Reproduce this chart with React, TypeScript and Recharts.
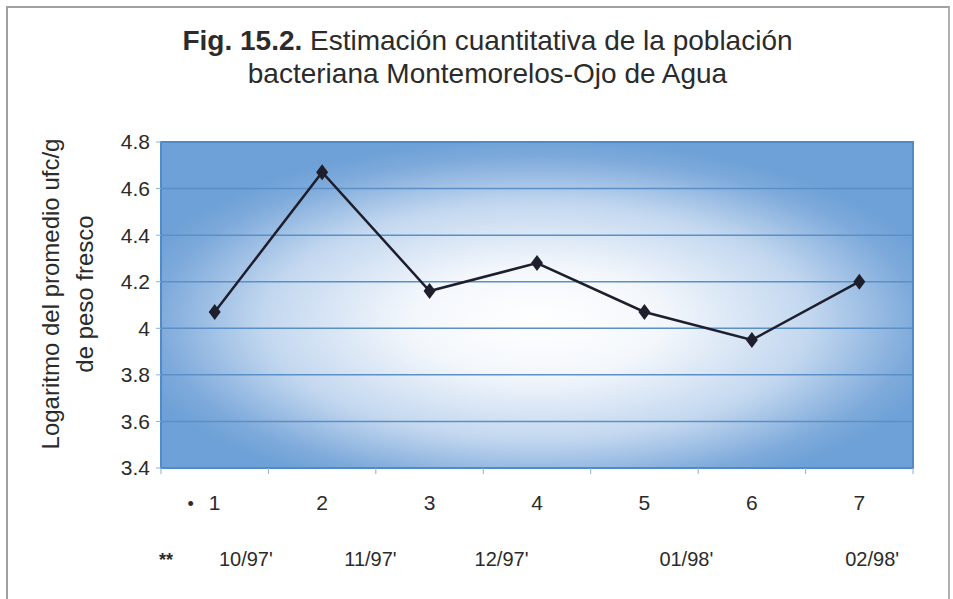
import { CartesianGrid, Line, LineChart, ReferenceArea, XAxis, YAxis } from "recharts";

// Muestreos 1..7 y logaritmo del promedio ufc/g
const muestreos = [1, 2, 3, 4, 5, 6, 7];
const logUfc = [4.07, 4.67, 4.16, 4.28, 4.07, 3.95, 4.2];
const yTicks = [3.4, 3.6, 3.8, 4, 4.2, 4.4, 4.6, 4.8];
const bordes = [0.5, 1.5, 2.5, 3.5, 4.5, 5.5, 6.5, 7.5];
// fechas escritas a mano bajo los números (no caen justo debajo de cada punto)
const fechas = ["10/97'", "11/97'", "12/97'", "01/98'", "02/98'"];
const fechasPos = [1.29, 2.45, 3.67, 5.39, 7.12];

const data = muestreos.map((m, i) => ({ m, v: logUfc[i] }));

const font = "'Liberation Sans', Arial, sans-serif";
const ink = "#2b2b2b";
const azul = "#4f8bc9";

function Diamond({ cx, cy }: { cx?: number; cy?: number }) {
  if (cx == null || cy == null) return null;
  return <path d={`M${cx},${cy - 8}L${cx + 6},${cy}L${cx},${cy + 8}L${cx - 6},${cy}Z`} fill="#1e1e2c" />;
}

function MesTick({ x, y, payload }: any) {
  return (
    <g>
      {payload.value === 1 ? (
        <text x={x - 24} y={y + 34} textAnchor="middle" fontSize={18} fill={ink} fontFamily={font}>•</text>
      ) : null}
      <text x={x} y={y + 34} textAnchor="middle" fontSize={21} fill={ink} fontFamily={font}>
        {payload.value}
      </text>
    </g>
  );
}

function FechaTick({ x, y, payload, index }: any) {
  return (
    <g>
      {index === 0 ? (
        <text x={166} y={y + 40} textAnchor="middle" fontSize={18} fontWeight="bold" fill={ink} fontFamily={font}>**</text>
      ) : null}
      <text x={x} y={y + 40} textAnchor="middle" fontSize={20} fill={ink} fontFamily={font}>
        {fechas[fechasPos.indexOf(payload.value)]}
      </text>
    </g>
  );
}

export default function App() {
  return (
    <div style={{ position: "absolute", left: 0, top: 0, width: 953, height: 599, background: "#fff", fontFamily: font, color: ink }}>
      <div style={{ position: "absolute", left: 6, top: 6, width: 940, height: 600, borderTop: "2px solid #a0a0a0", borderLeft: "2px solid #a0a0a0", borderRight: "2px solid #b0b0b0" }} />
      <div style={{ position: "absolute", left: 0, width: 975, top: 24, textAlign: "center", fontSize: 28, lineHeight: "33px" }}>
        <b>Fig. 15.2.</b> Estimación cuantitativa de la población
        <br />
        bacteriana Montemorelos-Ojo de Agua
      </div>
      <div
        style={{
          position: "absolute", left: 70, top: 294, width: 0, height: 0,
        }}
      >
        <div style={{ position: "absolute", left: -200, top: -36, width: 400, textAlign: "center", fontSize: 24, lineHeight: "34px", transform: "rotate(-90deg)", transformOrigin: "200px 36px" }}>
          Logaritmo del promedio ufc/g
          <br />
          de peso fresco
        </div>
      </div>
      <LineChart width={953} height={599} data={data} margin={{ top: 142, right: 40, bottom: 0, left: 101 }}>
        <defs>
          <radialGradient id="fondo" cx="50%" cy="55%" r="56%">
            <stop offset="0%" stopColor="#ffffff" />
            <stop offset="30%" stopColor="#f3f7fc" />
            <stop offset="65%" stopColor="#c2d7ef" />
            <stop offset="90%" stopColor="#7eaadb" />
            <stop offset="100%" stopColor="#6ea1d7" />
          </radialGradient>
        </defs>
        <CartesianGrid xAxisId="x2" vertical={false} stroke="#5b8fc8" strokeWidth={1.5} fill="url(#fondo)" fillOpacity={1} />
        {/* x1: marcas entre muestreos, x2: número de muestreo, x3: fecha */}
        <XAxis
          xAxisId="x1" type="number" dataKey="m" domain={[0.5, 7.5]} ticks={bordes}
          tickFormatter={() => ""} tickSize={6} height={8} axisLine={false}
          tickLine={{ stroke: "#8fb0d4" }}
        />
        <XAxis
          xAxisId="x2" type="number" dataKey="m" domain={[0.5, 7.5]} ticks={muestreos}
          tick={<MesTick />} tickSize={0} tickMargin={0} height={50} axisLine={false} tickLine={false}
        />
        <XAxis
          xAxisId="x3" type="number" dataKey="m" domain={[0.5, 7.5]} ticks={fechasPos}
          tick={<FechaTick />} tickSize={0} tickMargin={0} height={73} axisLine={false} tickLine={false}
        />
        <YAxis
          type="number" domain={[3.4, 4.8]} ticks={yTicks} width={60}
          tickFormatter={(v: number) => (v === 4 ? "4" : v.toFixed(1))}
          tick={{ fill: ink, fontSize: 21, fontFamily: font }}
          tickSize={5} tickMargin={6} axisLine={false} tickLine={{ stroke: "#8fb0d4" }}
        />
        <ReferenceArea xAxisId="x2" x1={0.5} x2={7.5} y1={3.4} y2={4.8} fill="none" stroke={azul} strokeWidth={2} />
        <Line
          xAxisId="x2" dataKey="v" stroke="#1e1e2c" strokeWidth={2.5}
          dot={<Diamond />} activeDot={false} isAnimationActive={false}
        />
      </LineChart>
    </div>
  );
}
